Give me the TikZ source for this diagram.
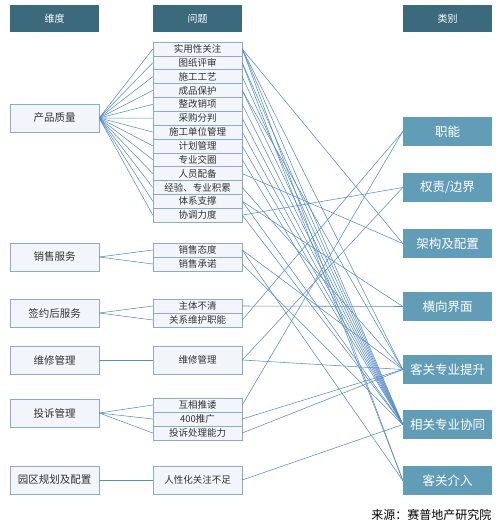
\documentclass[tikz,border=0pt]{standalone}
\usepackage{fontspec}
\setmainfont{Noto Sans CJK SC}
\usepackage{tikz}
\usetikzlibrary{positioning}
\definecolor{hdrblue}{RGB}{58,106,124}
\definecolor{catblue}{RGB}{98,157,184}
\definecolor{boxline}{RGB}{140,170,205}
\definecolor{boxfill}{RGB}{242,245,250}
\definecolor{linkblue}{RGB}{88,140,200}
\definecolor{txtgray}{RGB}{50,50,50}
\tikzset{
  hdr/.style={fill=hdrblue, text=white, minimum width=89pt, minimum height=27pt, inner sep=0pt, font=\fontsize{10}{10}\selectfont},
  dimbox/.style={draw=boxline, fill=boxfill, text=txtgray, minimum width=89pt, minimum height=28pt, inner sep=0pt, font=\fontsize{10.5}{11}\selectfont},
  qrow/.style={draw=boxline, fill=boxfill, text=txtgray, minimum width=89pt, minimum height=13.85pt, inner sep=0pt, font=\fontsize{9.5}{10}\selectfont},
  catbox/.style={fill=catblue, text=white, minimum width=89pt, minimum height=29pt, inner sep=0pt, font=\fontsize{12.5}{13}\selectfont},
  link/.style={draw=linkblue, line width=0.55pt}
}
\begin{document}
\begin{tikzpicture}[x=1pt, y=-1pt]
\useasboundingbox (0,0) rectangle (500,529);
% headers
\node[hdr] (h1) at (54.5,18.5) {维度};
\node[hdr] (h2) at (197.5,18.5) {问题};
\node[hdr] (h3) at (447.5,18.5) {类别};
% dimensions
\node[dimbox] (d1) at (54.5,118) {产品质量};
\node[dimbox] (d2) at (54.5,257) {销售服务};
\node[dimbox] (d3) at (54.5,313) {签约后服务};
\node[dimbox] (d4) at (54.5,360) {维修管理};
\node[dimbox] (d5) at (54.5,413) {投诉管理};
\node[dimbox] (d6) at (54.5,480) {园区规划及配置};
% problems
\foreach \txt [count=\i] in {实用性关注,图纸评审,施工工艺,成品保护,整改销项,采购分判,施工单位管理,计划管理,专业交圈,人员配备,经验、专业积累,体系支撑,协调力度}
  \node[qrow] (q\i) at (197.5,{42+13.85*(\i-0.5)}) {\txt};
\node[qrow] (s1) at (197.5,250) {销售态度};
\node[qrow] (s2) at (197.5,264) {销售承诺};
\node[qrow] (p1) at (197.5,306) {主体不清};
\node[qrow] (p2) at (197.5,320) {关系维护职能};
\node[qrow, minimum height=28pt] (m1) at (197.5,360) {维修管理};
\node[qrow] (t1) at (197.5,405) {互相推诿};
\node[qrow] (t2) at (197.5,419) {400推广};
\node[qrow] (t3) at (197.5,433) {投诉处理能力};
\node[qrow, minimum height=28pt] (g1) at (197.5,480) {人性化关注不足};
% categories
\node[catbox] (c1) at (447.5,131.5) {职能};
\node[catbox] (c2) at (447.5,187.5) {权责/边界};
\node[catbox] (c3) at (447.5,243.5) {架构及配置};
\node[catbox] (c4) at (447.5,306.5) {横向界面};
\node[catbox] (c5) at (447.5,369.5) {客关专业提升};
\node[catbox] (c6) at (447.5,424.5) {相关专业协同};
\node[catbox] (c7) at (447.5,480.5) {客关介入};
% dimension -> problem
\foreach \i in {1,...,13}
  \draw[link] (d1.east) -- (q\i.west);
\foreach \a/\b in {d2/s1,d2/s2,d3/p1,d3/p2,d4/m1,d5/t1,d5/t2,d5/t3,d6/g1}
  \draw[link] (\a.east) -- (\b.west);
% problem -> category
\foreach \a/\b in {q1/c3,q1/c5,q1/c6,q1/c7,q2/c6,q2/c7,q3/c6,q4/c5,q4/c6,q5/c6,q6/c6,
    q7/c6,q8/c6,q9/c6,q10/c3,q11/c5,q12/c4,q12/c6,q13/c2,q13/c6,s1/c5,s1/c7,s2/c6,
    p1/c4,p2/c1,m1/c2,m1/c5,t1/c1,t2/c5,t3/c5,g1/c6}
  \draw[link] (\a.east) -- (\b.west);
% source
\node[font=\fontsize{12}{12}\selectfont, anchor=east] (src) at (495,515) {来源：赛普地产研究院};
\end{tikzpicture}
\end{document}
